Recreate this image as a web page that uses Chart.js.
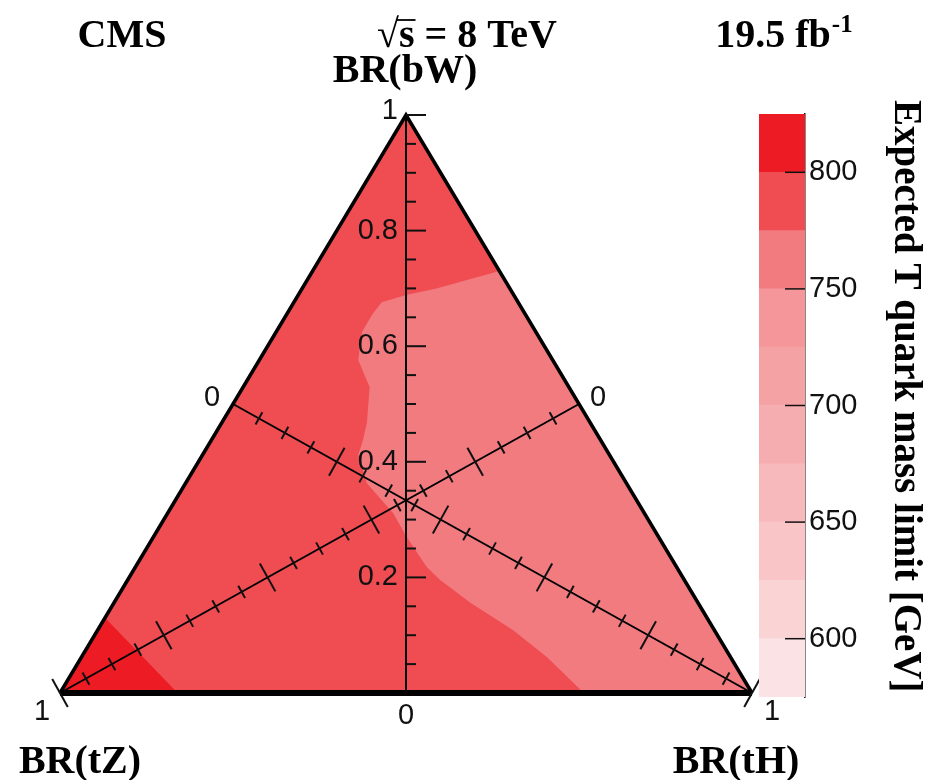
<!DOCTYPE html>
<html>
<head>
<meta charset="utf-8">
<script src="https://cdn.jsdelivr.net/npm/chart.js@4.4.1/dist/chart.umd.min.js"></script>
<style>
  html, body { margin: 0; padding: 0; background: #fff; }
  #wrap { position: relative; width: 928px; height: 780px; }
  #tern { position: absolute; left: 0; top: 0; }
  #zbar { position: absolute; left: 740px; top: 0; }
</style>
</head>
<body>
<div id="wrap">
  <canvas id="tern" width="928" height="780"></canvas>
  <canvas id="zbar" width="188" height="780"></canvas>
</div>
<script>
// points are [BR(bW), BR(tH)], BR(tZ) = 1 - bW - tH
const triangle = [[1, 0], [0, 0], [0, 1]];
const region750 = [
  [0.73, 0.27], [0.70, 0.194], [0.689, 0.157], [0.676, 0.127], [0.657, 0.124],
  [0.625, 0.124], [0.576, 0.143], [0.529, 0.183], [0.467, 0.21], [0.438, 0.219],
  [0.412, 0.225], [0.363, 0.262], [0.311, 0.326], [0.27, 0.366], [0.218, 0.421],
  [0.196, 0.451], [0.156, 0.515], [0.109, 0.6], [0.062, 0.673], [0, 0.757], [0, 1]
];
const region800 = [[0.13, 0], [0, 0.17], [0, 0]];
// mass limit (GeV) inside each region
const triangleZ = 787;
const region750Z = 762;
const region800Z = 812;

// colour scale
const zEdges = [575, 600, 625, 650, 675, 700, 725, 750, 775, 800, 825];
const zColors = ['#fbe2e4', '#fad3d5', '#f9c5c7', '#f7b9bb', '#f6adb0', '#f5a2a5',
                 '#f4969a', '#f27b80', '#ef4d52', '#ed1c24'];
const zTicks = [600, 650, 700, 750, 800];

// ternary axis ticks
const brTicks = [0.05, 0.1, 0.15, 0.2, 0.25, 0.3, 0.35, 0.4, 0.45, 0.5,
                 0.55, 0.6, 0.65, 0.7, 0.75, 0.8, 0.85, 0.9, 0.95, 1];
const brMajor = [0.2, 0.4, 0.6, 0.8, 1];

const toXY = ([bw, th]) => ({ x: th + bw / 2, y: bw });

function bandColor(z) {
  for (let i = 0; i < zColors.length; i++) {
    if (z >= zEdges[i] && z < zEdges[i + 1]) return zColors[i];
  }
  return zColors[zColors.length - 1];
}

function area(pts, z, order) {
  return {
    data: pts.map(toXY), fill: 'shape', backgroundColor: bandColor(z),
    borderColor: 'rgba(0,0,0,0)', borderWidth: 0, pointRadius: 0, order: order
  };
}

function edge(pts, w, order) {
  return {
    data: pts.map(toXY), fill: false, borderColor: '#000', borderWidth: w,
    borderJoinStyle: 'miter', pointRadius: 0, order: order, clip: false
  };
}

const isMajor = v => brMajor.some(m => Math.abs(m - v) < 1e-6);
const titleFont = 'bold 40px "Liberation Serif", "Times New Roman", serif';

const ternAxes = {
  id: 'ternAxes',
  afterDatasetsDraw(chart) {
    const { ctx, scales: { x, y } } = chart;
    const px = p => { const q = toXY(p); return [x.getPixelForValue(q.x), y.getPixelForValue(q.y)]; };
    const seg = (a, b, c, d) => { ctx.beginPath(); ctx.moveTo(a, b); ctx.lineTo(c, d); ctx.stroke(); };

    ctx.save();
    ctx.strokeStyle = '#111';
    ctx.lineWidth = 2;
    ctx.fillStyle = '#111';
    ctx.font = '29px "Liberation Sans", Arial, sans-serif';

    // BR(bW): vertical axis, ticks to the right
    ctx.textAlign = 'right';
    ctx.textBaseline = 'middle';
    brTicks.forEach(v => {
      const [X, Y] = px([v, (1 - v) / 2]);
      seg(X, Y, X + (isMajor(v) ? 20 : 10), Y);
      if (isMajor(v)) ctx.fillText(String(v), X - 8, Y - (v === 1 ? 4 : 0));
    });
    const [bx, by] = px([0, 0.5]);
    ctx.textAlign = 'center';
    ctx.fillText('0', bx, by + 23);

    // diagonal axes: BR(tH) from left edge midpoint, BR(tZ) from right edge midpoint
    const diag = (at, zeroOff, oneOff) => {
      const [ax, ay] = px(at(0));
      const [ex, ey] = px(at(1));
      const L = Math.hypot(ex - ax, ey - ay);
      const nx = -(ey - ay) / L, ny = (ex - ax) / L;
      brTicks.forEach(v => {
        const [X, Y] = px(at(v));
        const h = isMajor(v) ? 16 : 7;
        seg(X - nx * h, Y - ny * h, X + nx * h, Y + ny * h);
      });
      ctx.fillText('0', ax + zeroOff[0], ay + zeroOff[1]);
      ctx.fillText('1', ex + oneOff[0], ey + oneOff[1]);
    };
    diag(v => [0.5 * (1 - v), v], [-21, -6], [20, 19]);
    diag(v => [0.5 * (1 - v), 0.5 * (1 - v)], [19, -6], [-18, 19]);

    // header and corner titles
    ctx.fillStyle = '#000';
    ctx.textBaseline = 'alphabetic';
    ctx.textAlign = 'center';
    ctx.font = titleFont;
    ctx.fillText('CMS', 122, 47);

    const rs = '√s = 8 TeV';
    const rx = 467 - ctx.measureText(rs).width / 2;
    ctx.textAlign = 'left';
    ctx.fillText(rs, rx, 47);
    const rw = ctx.measureText('√').width;
    const sw = ctx.measureText('s').width;
    ctx.lineWidth = 1.8;
    ctx.strokeStyle = '#000';
    seg(rx + rw - 3, 20, rx + rw + sw + 1, 20);

    ctx.font = 'bold 25px "Liberation Serif", "Times New Roman", serif';
    const ew = ctx.measureText('-1').width;
    ctx.font = titleFont;
    const fw = ctx.measureText('19.5 fb').width;
    const lx = 784 - (fw + ew + 1) / 2;
    ctx.fillText('19.5 fb', lx, 47);
    ctx.font = 'bold 25px "Liberation Serif", "Times New Roman", serif';
    ctx.fillText('-1', lx + fw + 1, 32);

    ctx.font = titleFont;
    ctx.textAlign = 'center';
    ctx.fillText('BR(bW)', 405, 82);
    ctx.fillText('BR(tZ)', 80, 773);
    ctx.fillText('BR(tH)', 736, 773);
    ctx.restore();
  }
};

new Chart(document.getElementById('tern'), {
  type: 'line',
  data: {
    datasets: [
      area(triangle, triangleZ, 10),
      area(region750, region750Z, 9),
      area(region800, region800Z, 8),
      edge([[0, 0.5], [1, 0]], 2, 5),
      edge([[0.5, 0], [0, 1]], 2, 5),
      edge([[0.5, 0.5], [0, 0]], 2, 5),
      edge([[0, 0], [1, 0], [0, 1]], 3.5, 2),
      edge([[0, 0], [0, 1]], 6, 1)
    ]
  },
  options: {
    responsive: false,
    animation: false,
    events: [],
    layout: { padding: { left: 60, right: 176, top: 115, bottom: 87 } },
    scales: {
      x: { type: 'linear', min: 0, max: 1, display: false },
      y: { type: 'linear', min: 0, max: 1, display: false }
    },
    plugins: { legend: { display: false }, tooltip: { enabled: false } }
  },
  plugins: [ternAxes]
});

const zbarDeco = {
  id: 'zbarDeco',
  afterDatasetsDraw(chart) {
    const { ctx, chartArea, scales: { y } } = chart;
    ctx.save();
    ctx.strokeStyle = '#111';
    ctx.lineWidth = 1.5;
    zTicks.forEach(v => {
      const Y = y.getPixelForValue(v);
      ctx.beginPath();
      ctx.moveTo(chartArea.right - 20, Y);
      ctx.lineTo(chartArea.right, Y);
      ctx.stroke();
    });
    ctx.translate(165, 100);
    ctx.rotate(Math.PI / 2);
    ctx.fillStyle = '#000';
    ctx.font = 'bold 39px "Liberation Serif", "Times New Roman", serif';
    ctx.textAlign = 'left';
    ctx.textBaseline = 'middle';
    ctx.fillText('Expected T quark mass limit [GeV]', 0, 0);
    ctx.restore();
  }
};

new Chart(document.getElementById('zbar'), {
  type: 'bar',
  data: {
    labels: ['z'],
    datasets: zColors.map((c, i) => ({
      data: [[zEdges[i], zEdges[i + 1]]],
      backgroundColor: c, borderWidth: 0, grouped: false,
      barPercentage: 1, categoryPercentage: 1
    }))
  },
  options: {
    responsive: false,
    animation: false,
    events: [],
    layout: { padding: { left: 19, right: 0, top: 114, bottom: 83 } },
    scales: {
      x: { display: false },
      y: {
        position: 'right', min: 575, max: 825,
        afterFit: s => { s.width = 123; },
        afterBuildTicks: s => { s.ticks = zTicks.map(v => ({ value: v })); },
        grid: { display: false, drawTicks: false },
        border: { display: true, color: '#111', width: 1.5 },
        ticks: { padding: 4, color: '#111', font: { family: '"Liberation Sans", Arial, sans-serif', size: 29 } }
      }
    },
    plugins: { legend: { display: false }, tooltip: { enabled: false } }
  },
  plugins: [zbarDeco]
});
</script>
</body>
</html>
